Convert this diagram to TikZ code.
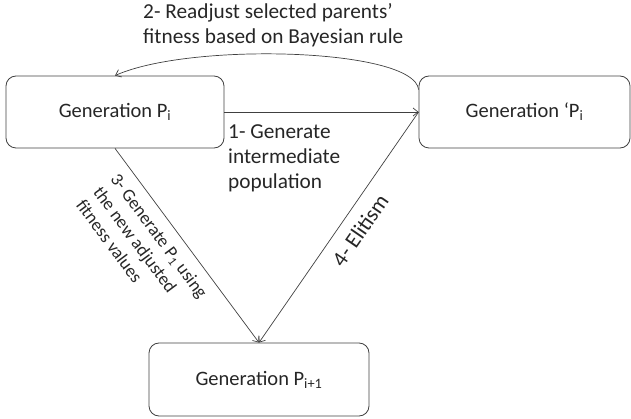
\documentclass[tikz,border=0pt]{standalone}
\usepackage{fontspec}
\setmainfont{Carlito}
\usetikzlibrary{arrows.meta}
\begin{document}
\begin{tikzpicture}[x=1pt,y=-1pt,
  box/.style={draw=black!75, line width=0.8pt, rounded corners=10pt, minimum width=#1, minimum height=72pt, inner sep=0pt, font=\fontsize{20.5}{25}\selectfont, text=black!85},
  conn/.style={draw=black!75, line width=0.7pt, -{Straight Barb[length=5pt,width=8pt]}},
  lbl/.style={font=\fontsize{21.3}{25}\selectfont, text=black!85, align=left, inner sep=0pt},
  slbl/.style={font=\fontsize{18}{21.5}\selectfont, text=black!85, align=left, inner sep=0pt},
]
\useasboundingbox (0,0) rectangle (631,419);
\node[box=218pt] (L) at (115,112) {Generation P\textsubscript{i}};
\node[box=211pt] (R) at (524.5,112) {Generation ‘P\textsubscript{i}};
\node[box=220pt, minimum height=73pt] (B) at (259,379.5) {Generation P\textsubscript{i+1}};

\draw[conn] (L.east) -- (R.west);
\node[lbl, anchor=north west] (t1) at (228,124) {1- Generate\\intermediate\\population};

\draw[conn] ([yshift=-14pt]R.north west) .. controls (414,48) and (190,42) .. (L.north);
\node[lbl, anchor=north west] (t2) at (143,3) {2- Readjust selected parents’\\fitness based on Bayesian rule};

\draw[conn] (L.south) -- node[slbl, sloped, pos=0.4, below=10pt] (t3) {3- Generate P\textsubscript{1} using\\the new adjusted\\fitness values} (B.north);

\draw[conn] (R.west) -- node[lbl, font=\fontsize{22}{25}\selectfont, sloped, pos=0.465, below=11pt] (t4) {4- Elitism} (B.north);
\end{tikzpicture}
\end{document}
